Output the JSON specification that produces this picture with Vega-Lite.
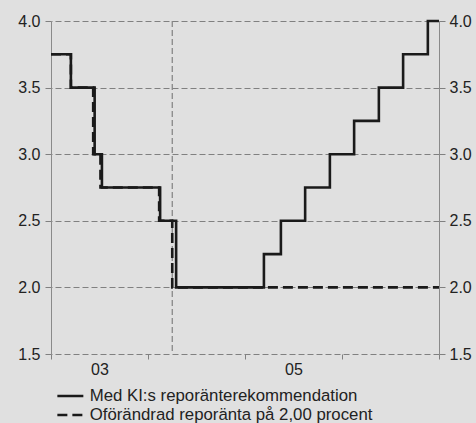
{
  "$schema": "https://vega.github.io/schema/vega-lite/v6.json",
  "width": 388,
  "height": 333,
  "autosize": {"type": "none"},
  "padding": {"left": 51, "top": 21, "right": 37, "bottom": 69},
  "background": "#e0e0e0",
  "config": {
    "view": {"stroke": null},
    "font": "Liberation Sans",
    "axis": {
      "labelFont": "Liberation Sans",
      "labelFontSize": 16,
      "labelColor": "#222222",
      "tickColor": "#808080",
      "domainColor": "#8a8a8a",
      "title": null
    }
  },
  "data": {
    "values": [
      {"series": "Med KI:s reporänterekommendation", "t": 2003.0, "rate": 3.75},
      {"series": "Med KI:s reporänterekommendation", "t": 2003.205, "rate": 3.5},
      {"series": "Med KI:s reporänterekommendation", "t": 2003.45, "rate": 3.0},
      {"series": "Med KI:s reporänterekommendation", "t": 2003.525, "rate": 2.75},
      {"series": "Med KI:s reporänterekommendation", "t": 2004.125, "rate": 2.5},
      {"series": "Med KI:s reporänterekommendation", "t": 2004.29, "rate": 2.0},
      {"series": "Med KI:s reporänterekommendation", "t": 2005.195, "rate": 2.25},
      {"series": "Med KI:s reporänterekommendation", "t": 2005.37, "rate": 2.5},
      {"series": "Med KI:s reporänterekommendation", "t": 2005.62, "rate": 2.75},
      {"series": "Med KI:s reporänterekommendation", "t": 2005.875, "rate": 3.0},
      {"series": "Med KI:s reporänterekommendation", "t": 2006.125, "rate": 3.25},
      {"series": "Med KI:s reporänterekommendation", "t": 2006.38, "rate": 3.5},
      {"series": "Med KI:s reporänterekommendation", "t": 2006.63, "rate": 3.75},
      {"series": "Med KI:s reporänterekommendation", "t": 2006.885, "rate": 4.0},
      {"series": "Med KI:s reporänterekommendation", "t": 2007.0, "rate": 4.0},
      {"series": "Oförändrad reporänta på 2,00 procent", "t": 2003.0, "rate": 3.75},
      {"series": "Oförändrad reporänta på 2,00 procent", "t": 2003.205, "rate": 3.5},
      {"series": "Oförändrad reporänta på 2,00 procent", "t": 2003.435, "rate": 3.0},
      {"series": "Oförändrad reporänta på 2,00 procent", "t": 2003.51, "rate": 2.75},
      {"series": "Oförändrad reporänta på 2,00 procent", "t": 2004.115, "rate": 2.5},
      {"series": "Oförändrad reporänta på 2,00 procent", "t": 2004.25, "rate": 2.0},
      {"series": "Oförändrad reporänta på 2,00 procent", "t": 2007.0, "rate": 2.0}
    ]
  },
  "layer": [
    {
      "data": {"values": [{"t": 2004.25}]},
      "mark": {"type": "rule", "color": "#808080", "strokeWidth": 1.2, "strokeDash": [6, 3]},
      "encoding": {
        "x": {"field": "t", "type": "quantitative"}
      }
    },
    {
      "transform": [{"filter": "datum.series == 'Med KI:s reporänterekommendation'"}],
      "mark": {"type": "line", "interpolate": "step-after", "color": "#1a1a1a", "strokeWidth": 2.6},
      "encoding": {
        "x": {
          "field": "t", "type": "quantitative",
          "scale": {"domain": [2003, 2007], "nice": false, "zero": false},
          "axis": {
            "values": [2003, 2003.5, 2004, 2005, 2005.5, 2006, 2007],
            "labelExpr": "datum.value == 2003.5 ? '03' : (datum.value == 2005.5 ? '05' : '')",
            "tickOpacity": {"condition": {"test": "datum.value == 2003.5 || datum.value == 2005.5", "value": 0}, "value": 1},
            "grid": false,
            "domain": false,
            "tickSize": 5,
            "labelPadding": 2,
            "labelFlush": false,
            "labelOverlap": false
          }
        },
        "y": {
          "field": "rate", "type": "quantitative",
          "scale": {"domain": [1.5, 4], "nice": false, "zero": false},
          "axis": {
            "orient": "left",
            "values": [1.5, 2, 2.5, 3, 3.5, 4],
            "format": ".1f",
            "grid": false,
            "tickSize": 6,
            "labelPadding": 5
          }
        },
        "strokeDash": {
          "datum": "Med KI:s reporänterekommendation",
          "scale": {
            "domain": ["Med KI:s reporänterekommendation", "Oförändrad reporänta på 2,00 procent"],
            "range": [[1, 0], [10, 5]]
          },
          "legend": {
            "title": null,
            "orient": "none",
            "legendX": 9.35,
            "legendY": 365,
            "symbolType": "M-1.5,0H1.5",
            "symbolSize": 300,
            "symbolStrokeWidth": 2.6,
            "symbolStrokeColor": "#1a1a1a",
            "labelFont": "Liberation Sans",
            "labelFontSize": 16.8,
            "labelColor": "#222222",
            "labelOffset": 9.35,
            "rowPadding": -1,
            "padding": 0,
            "labelLimit": 400
          }
        }
      }
    },
    {
      "transform": [{"filter": "datum.series == 'Oförändrad reporänta på 2,00 procent'"}],
      "mark": {"type": "line", "interpolate": "step-after", "color": "#1a1a1a", "strokeWidth": 2.6},
      "encoding": {
        "x": {"field": "t", "type": "quantitative"},
        "y": {
          "field": "rate", "type": "quantitative",
          "axis": {
            "orient": "right",
            "values": [1.5, 2, 2.5, 3, 3.5, 4],
            "format": ".1f",
            "grid": true,
            "gridColor": "#808080",
            "gridDash": [6, 3],
            "gridWidth": 1.2,
            "gridOpacity": 1,
            "tickSize": 6,
            "labelPadding": 4
          }
        },
        "strokeDash": {"datum": "Oförändrad reporänta på 2,00 procent"}
      }
    }
  ],
  "resolve": {"axis": {"y": "independent"}}
}
